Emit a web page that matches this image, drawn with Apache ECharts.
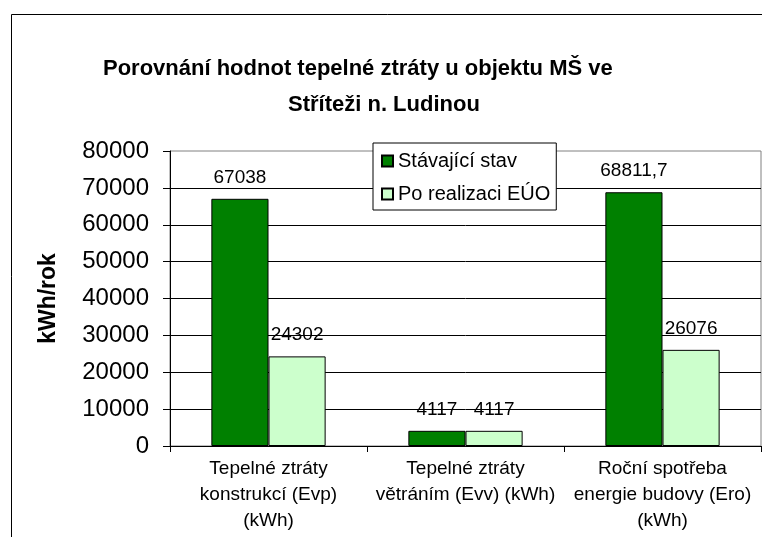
<!DOCTYPE html>
<html>
<head>
<meta charset="utf-8">
<script src="https://cdn.jsdelivr.net/npm/echarts@6/dist/echarts.min.js"></script>
<style>
	html, body { margin: 0; padding: 0; background: #fff; }
	#chart { width: 762px; height: 537px; }
</style>
</head>
<body>
<div id="chart"></div>
<script>
	// data
	var categories = [
		'Tepelné ztráty\nkonstrukcí (Evp)\n(kWh)',
		'Tepelné ztráty\nvětráním (Evv) (kWh)',
		'Roční spotřeba\nenergie budovy (Ero)\n(kWh)'
	];
	var seriesNames = ['Stávající stav', 'Po realizaci EÚO'];
	var stavajici = [67038, 4117, 68811.7];
	var poRealizaci = [24302, 4117, 26076];
	var yTicks = { min: 0, max: 80000, interval: 10000 };

	var font = 'Liberation Sans, Arial, sans-serif';
	var myChart = echarts.init(document.getElementById('chart'));

	// cisla s desetinnou carkou
	function fmt(p) {
		return String(p.value).replace('.', ',');
	}

	var option = {
		backgroundColor: '#fff',
		textStyle: { fontFamily: font, color: '#000' },
		animation: false,
		title: [
			{
				text: 'Porovnání hodnot tepelné ztráty u objektu MŠ ve',
				left: 98, top: 53,
				textStyle: { fontSize: 22, fontWeight: 'bold', color: '#000', fontFamily: font }
			},
			{
				text: 'Stříteži n. Ludinou',
				left: 283, top: 89,
				textStyle: { fontSize: 22, fontWeight: 'bold', color: '#000', fontFamily: font }
			}
		],
		graphic: [
			{
				type: 'rect',
				shape: { x: 11.5, y: 14.5, width: 800, height: 600 },
				style: { fill: 'none', stroke: '#000', lineWidth: 1 },
				z: -1
			}
		],
		legend: {
			orient: 'vertical',
			left: 373, top: 143,
			width: 190,
			padding: [8, 6, 6, 8],
			itemGap: 13,
			itemWidth: 11, itemHeight: 11,
			itemTextGap: 8,
			backgroundColor: '#fff',
			borderColor: '#000',
			borderWidth: 1,
			borderRadius: 0,
			textStyle: { fontSize: 20, color: '#000', fontFamily: font },
			data: seriesNames.map(function (n) { return { name: n, icon: 'rect' }; }),
			z: 10
		},
		grid: {
			left: 170, right: 1, top: 151, bottom: 91,
			show: true,
			borderColor: '#808080',
			borderWidth: 1,
			containLabel: false
		},
		xAxis: {
			type: 'category',
			data: categories,
			axisLine: { lineStyle: { color: '#000', width: 1 } },
			axisTick: { show: true, length: 6, lineStyle: { color: '#000' } },
			axisLabel: {
				interval: 0,
				fontSize: 19,
				lineHeight: 26,
				margin: 10,
				color: '#000',
				fontFamily: font
			}
		},
		yAxis: {
			type: 'value',
			min: yTicks.min, max: yTicks.max, interval: yTicks.interval,
			name: 'kWh/rok',
			nameLocation: 'middle',
			nameGap: 110,
			nameRotate: 90,
			nameTextStyle: { fontSize: 23, fontWeight: 'bold', color: '#000', fontFamily: font },
			axisLine: { show: true, lineStyle: { color: '#000', width: 1 } },
			axisTick: { show: true, length: 7, lineStyle: { color: '#000' } },
			axisLabel: {
				fontSize: 24, margin: 21, color: '#000', fontFamily: font,
				formatter: function (v) { return String(v); }
			},
			splitLine: { show: true, showMaxLine: false, lineStyle: { color: '#000', width: 1 } }
		},
		series: [
			{
				name: seriesNames[0],
				type: 'bar',
				data: stavajici,
				barGap: '0%',
				barCategoryGap: '42%',
				itemStyle: { color: '#008000', borderColor: '#000', borderWidth: 1 },
				label: { show: true, position: 'top', distance: 12, fontSize: 19, color: '#000', fontFamily: font, formatter: fmt }
			},
			{
				name: seriesNames[1],
				type: 'bar',
				data: poRealizaci,
				barGap: '0%',
				barCategoryGap: '42%',
				itemStyle: { color: '#CCFFCC', borderColor: '#000', borderWidth: 1 },
				label: { show: true, position: 'top', distance: 12, fontSize: 19, color: '#000', fontFamily: font, formatter: fmt }
			}
		]
	};

	myChart.setOption(option);
</script>
</body>
</html>
